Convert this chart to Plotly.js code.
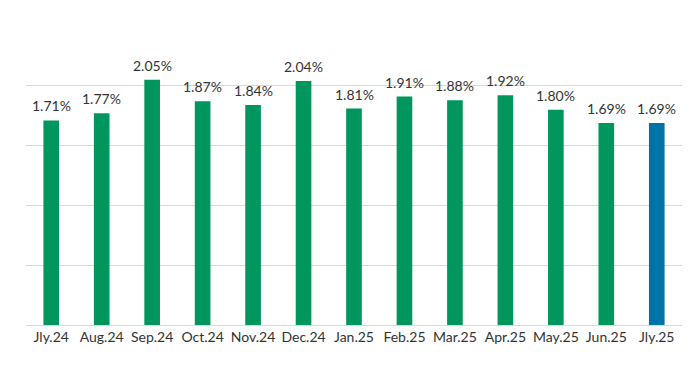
<!DOCTYPE html>
<html>
<head>
<meta charset="utf-8">
<script src="https://cdn.plot.ly/plotly-3.0.1.min.js"></script>
<style>html,body{margin:0;padding:0;background:#fff;}#chart{width:700px;height:367px;}</style>
</head>
<body>
<div id="chart"></div>
<script>
const categories = ["Jly.24","Aug.24","Sep.24","Oct.24","Nov.24","Dec.24","Jan.25","Feb.25","Mar.25","Apr.25","May.25","Jun.25","Jly.25"];
const values = [1.71,1.77,2.05,1.87,1.84,2.04,1.81,1.91,1.88,1.92,1.80,1.69,1.69];
const labels = ["1.71%","1.77%","2.05%","1.87%","1.84%","2.04%","1.81%","1.91%","1.88%","1.92%","1.80%","1.69%","1.69%"];
const greenColor = "#00965E";
const blueColor = "#0073A8";
const barColors = categories.map((c, i) => i === categories.length - 1 ? blueColor : greenColor);
const fontFamily = "Lato, sans-serif";

const trace = {
  type: "bar",
  x: categories,
  y: values,
  marker: {color: barColors},
  hoverinfo: "skip"
};

const annotations = categories.map((c, i) => ({
  x: c, y: values[i], text: labels[i],
  xref: "x", yref: "y",
  showarrow: false, yanchor: "bottom", yshift: 4,
  font: {family: fontFamily, size: 14, color: "#333333"}
}));

const layout = {
  width: 700, height: 367,
  margin: {l: 26, r: 18, t: 26, b: 42},
  paper_bgcolor: "#ffffff", plot_bgcolor: "#ffffff",
  bargap: 0.69,
  showlegend: false,
  font: {family: fontFamily, size: 14, color: "#333333"},
  xaxis: {
    type: "category", showgrid: false, zeroline: false, showline: false,
    ticks: "", ticklabelstandoff: 2,
    tickfont: {family: fontFamily, size: 14, color: "#333333"}
  },
  yaxis: {
    range: [0, 2.5], dtick: 0.5, showticklabels: false,
    showgrid: true, gridcolor: "#d9d9d9", gridwidth: 1,
    zeroline: true, zerolinecolor: "#d9d9d9", zerolinewidth: 1,
    ticks: ""
  },
  annotations: annotations
};

Plotly.newPlot("chart", [trace], layout, {displayModeBar: false, staticPlot: true});
</script>
</body>
</html>
